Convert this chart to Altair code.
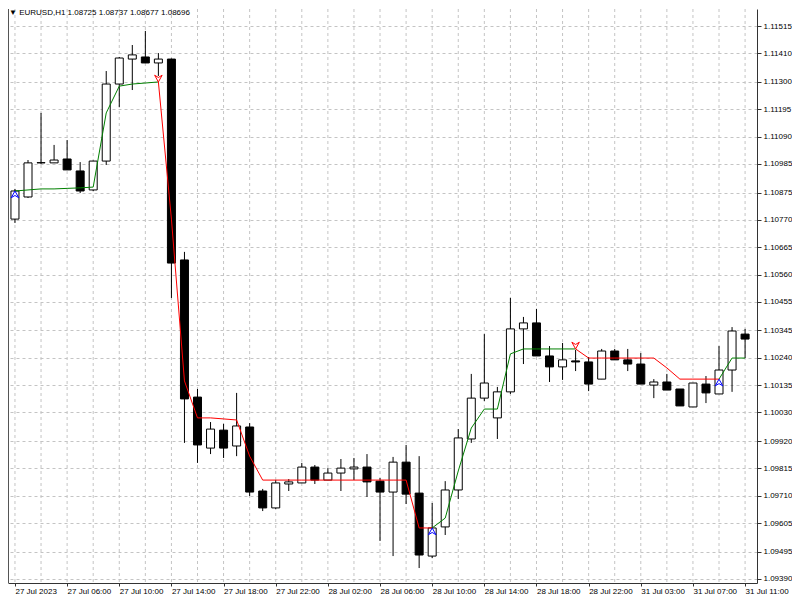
import json
import altair as alt
import pandas as pd

# ---- data (EURUSD H1) ----
opens = [1.10773, 1.10858, 1.10989, 1.10989, 1.11004, 1.10958, 1.10885, 1.10996, 1.11292, 1.11388,
         1.11396, 1.11373, 1.11388, 1.10616, 1.10089, 1.09893, 1.09962, 1.09901, 1.09974, 1.09728,
         1.09663, 1.09755, 1.09759, 1.09820, 1.09770, 1.09797, 1.09813, 1.09820, 1.09766, 1.09724,
         1.09839, 1.09720, 1.09478, 1.09590, 1.09732, 1.09928, 1.10085, 1.10009, 1.10109, 1.10351,
         1.10374, 1.10247, 1.10205, 1.10228, 1.10224, 1.10158, 1.10266, 1.10232, 1.10216, 1.10135,
         1.10147, 1.10120, 1.10051, 1.10139, 1.10101, 1.10193, 1.10331]
highs = [1.10889, 1.11000, 1.11181, 1.11058, 1.11077, 1.10992, 1.10998, 1.11342, 1.11396, 1.11442,
         1.11496, 1.11411, 1.11390, 1.10647, 1.10120, 1.09993, 1.09986, 1.10105, 1.09989, 1.09736,
         1.09770, 1.09774, 1.09836, 1.09828, 1.09816, 1.09851, 1.09855, 1.09870, 1.09778, 1.09859,
         1.09905, 1.09862, 1.09682, 1.09766, 1.09966, 1.10178, 1.10331, 1.10128, 1.10470, 1.10397,
         1.10428, 1.10285, 1.10297, 1.10270, 1.10243, 1.10274, 1.10274, 1.10274, 1.10258, 1.10158,
         1.10178, 1.10120, 1.10143, 1.10170, 1.10285, 1.10358, 1.10351]
lows = [1.10758, 1.10854, 1.10985, 1.10989, 1.10962, 1.10873, 1.10881, 1.10981, 1.11204, 1.11269,
        1.11373, 1.11323, 1.10470, 1.09913, 1.09836, 1.09870, 1.09855, 1.09862, 1.09709, 1.09651,
        1.09659, 1.09728, 1.09759, 1.09755, 1.09770, 1.09728, 1.09770, 1.09705, 1.09536, 1.09478,
        1.09678, 1.09432, 1.09470, 1.09559, 1.09697, 1.09913, 1.10074, 1.09928, 1.10101, 1.10216,
        1.10247, 1.10147, 1.10155, 1.10189, 1.10112, 1.10158, 1.10232, 1.10189, 1.10139, 1.10085,
        1.10116, 1.10055, 1.10051, 1.10066, 1.10101, 1.10109, 1.10239]
closes = [1.10881, 1.10989, 1.10990, 1.11000, 1.10962, 1.10881, 1.10996, 1.11292, 1.11392, 1.11404,
          1.11373, 1.11388, 1.10604, 1.10082, 1.09905, 1.09966, 1.09893, 1.09978, 1.09724, 1.09663,
          1.09759, 1.09763, 1.09820, 1.09770, 1.09797, 1.09816, 1.09820, 1.09763, 1.09724, 1.09839,
          1.09716, 1.09482, 1.09586, 1.09732, 1.09932, 1.10085, 1.10143, 1.10109, 1.10351, 1.10374,
          1.10247, 1.10205, 1.10232, 1.10224, 1.10139, 1.10266, 1.10232, 1.10216, 1.10139, 1.10147,
          1.10116, 1.10055, 1.10143, 1.10105, 1.10193, 1.10343, 1.10312]

trend_line = [1.10881, 1.10885, 1.10889, 1.10889, 1.10891, 1.10893, 1.10896, 1.11181, 1.11284, 1.11292,
              1.11296, 1.11300, 1.10773, 1.10151, 1.10009, 1.10009, 1.10005, 1.10001, 1.09862, 1.09770,
              1.09770, 1.09770, 1.09770, 1.09770, 1.09770, 1.09770, 1.09770, 1.09770, 1.09770, 1.09770,
              1.09770, 1.09586, 1.09586, 1.09624, 1.09805, 1.09970, 1.10043, 1.10043, 1.10255, 1.10274,
              1.10274, 1.10274, 1.10274, 1.10274, 1.10239, 1.10239, 1.10239, 1.10239, 1.10239, 1.10239,
              1.10201, 1.10158, 1.10158, 1.10158, 1.10158, 1.10239, 1.10239]
trend_dir = (["up"] * 11 + ["down"] * 21 + ["up"] * 11 + ["down"] * 11 + ["up"] * 3)

y_ticks = [1.11515, 1.11410, 1.11300, 1.11195, 1.11090, 1.10985, 1.10875, 1.10770, 1.10665, 1.10560,
           1.10455, 1.10345, 1.10240, 1.10135, 1.10030, 1.09920, 1.09815, 1.09710, 1.09605, 1.09495,
           1.09390]
x_tick_bars = [0, 4, 8, 12, 16, 20, 24, 28, 32, 36, 40, 44, 48, 52, 56]
x_tick_labels = ["27 Jul 2023", "27 Jul 06:00", "27 Jul 10:00", "27 Jul 14:00", "27 Jul 18:00",
                 "27 Jul 22:00", "28 Jul 02:00", "28 Jul 06:00", "28 Jul 10:00", "28 Jul 14:00",
                 "28 Jul 18:00", "28 Jul 22:00", "31 Jul 03:00", "31 Jul 07:00", "31 Jul 11:00"]
grid_bars = list(range(0, 57, 2))
header = "\u25BC EURUSD,H1  1.08725 1.08737 1.08677 1.08696"

# ---- tables ----
n = len(opens)
candles = pd.DataFrame({"bar": list(range(n)), "open": opens, "high": highs,
                        "low": lows, "close": closes})

rows = []
seg = 0
start = 0
for i in range(1, n + 1):
    if i == n or trend_dir[i] != trend_dir[start]:
        for j in range(start, min(i, n - 1) + 1):
            rows.append({"bar": j, "price": trend_line[j], "seg": seg, "trend": trend_dir[start]})
        seg += 1
        start = i
line_df = pd.DataFrame(rows)

arrow_rows = []
for i in range(n):
    if i == 0 or trend_dir[i] != trend_dir[i - 1]:
        arrow_rows.append({"bar": i, "price": trend_line[i], "trend": trend_dir[i]})
arrows = pd.DataFrame(arrow_rows)
grid_df = pd.DataFrame({"bar": grid_bars})

W, H = 749, 574
xscale = alt.Scale(domain=[-0.151, 56.53], nice=False, zero=False)
yscale = alt.Scale(domain=[1.093745, 1.115804], nice=False, zero=False)

label_expr = json.dumps(x_tick_labels) + "[round(datum.value / 4)]"
x_axis = alt.Axis(values=x_tick_bars, labelExpr=label_expr, grid=False, tickSize=3,
                  labelAlign="left", labelPadding=1, labelOverlap=False, labelFlush=False,
                  labelBound=False, domainColor="#333333", tickColor="#333333", title=None)
y_axis = alt.Axis(orient="right", values=y_ticks, format=".5f", grid=True, gridColor="#c4c4c4",
                  gridDash=[3, 3], tickSize=4, labelPadding=2, labelOverlap=False,
                  labelBaseline="middle", domainColor="#333333", tickColor="#333333", title=None)


def X():
    return alt.X("bar:Q", scale=xscale, axis=x_axis, title=None)


def Y(field):
    return alt.Y(field, type="quantitative", scale=yscale, axis=y_axis, title=None)


vgrid = alt.Chart(grid_df).mark_rule(color="#c4c4c4", strokeDash=[3, 3], strokeWidth=1).encode(
    x=X(), y=alt.value(0), y2=alt.value(H))

wicks = alt.Chart(candles).mark_rule(color="black", strokeWidth=1, clip=True).encode(
    x=X(), y=Y("low"), y2="high:Q")

bodies = alt.Chart(candles).mark_bar(size=8, stroke="black", strokeWidth=1, clip=True).encode(
    x=X(), y=Y("open"), y2="close:Q",
    fill=alt.condition("datum.close >= datum.open", alt.value("#ffffff"), alt.value("#000000")))

trend = alt.Chart(line_df).mark_line(strokeWidth=1, clip=True).encode(
    x=X(), y=Y("price"),
    color=alt.Color("trend:N", scale=alt.Scale(domain=["up", "down"], range=["#008000", "#ff0000"]),
                    legend=None),
    detail="seg:N",
    order="bar:Q")

up_path = "M0,0L-1,1.8L0,1.2L1,1.8Z"
down_path = "M0,0L-1,-1.8L0,-1.2L1,-1.8Z"
up_arrows = alt.Chart(arrows).transform_filter("datum.trend == 'up'").mark_point(
    shape=up_path, size=56, filled=False, strokeWidth=1, color="#0000ff", opacity=1, clip=True).encode(
    x=X(), y=Y("price"))
down_arrows = alt.Chart(arrows).transform_filter("datum.trend == 'down'").mark_point(
    shape=down_path, size=56, filled=False, strokeWidth=1, color="#ff0000", opacity=1, clip=True).encode(
    x=X(), y=Y("price"))

left_border = alt.Chart(pd.DataFrame({"a": [0]})).mark_rule(color="#555555").encode(
    x=alt.value(0.5), y=alt.value(0), y2=alt.value(H))

title_txt = alt.Chart(pd.DataFrame({"t": [header]})).mark_text(
    align="left", baseline="top", font="Liberation Sans", fontSize=8, color="black").encode(
    text="t:N", x=alt.value(1), y=alt.value(0))

chart = alt.layer(vgrid, wicks, bodies, trend, up_arrows, down_arrows, left_border, title_txt).properties(
    width=W, height=H, padding={"left": 0, "top": 0, "right": 0, "bottom": 0}, background="white"
).configure_view(stroke=None).configure_axis(
    labelFont="Liberation Sans", labelFontSize=8, labelColor="black")

chart.save("out.html", embed_options={"renderer": "svg", "actions": False})
